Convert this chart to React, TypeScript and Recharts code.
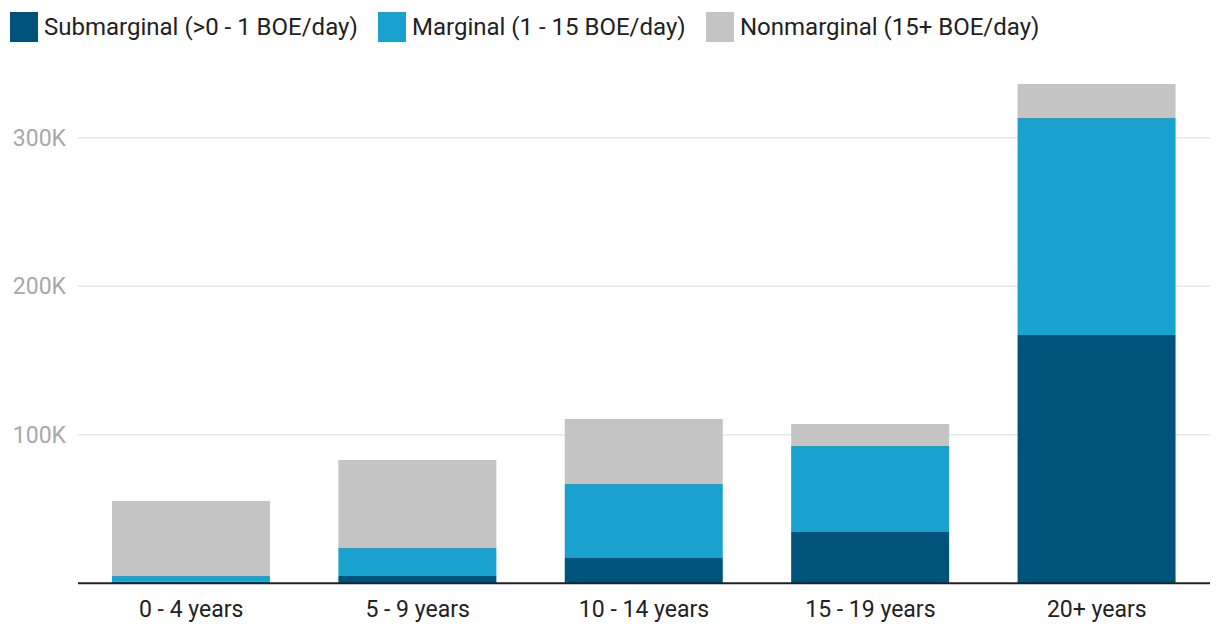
import React from "react";
import { BarChart, Bar, XAxis, YAxis, CartesianGrid } from "recharts";

const categories = ["0 - 4 years", "5 - 9 years", "10 - 14 years", "15 - 19 years", "20+ years"];
const submarginal = [1200, 4900, 17000, 34500, 167200];
const marginal = [3700, 18900, 49900, 58000, 146100];
const nonmarginal = [50500, 59200, 43700, 14800, 22900];
const yTicks = [0, 100000, 200000, 300000];
const gridValues = [100000, 200000, 300000];

const seriesNames = ["Submarginal (>0 - 1 BOE/day)", "Marginal (1 - 15 BOE/day)", "Nonmarginal (15+ BOE/day)"];
const seriesKeys = ["sub", "marg", "non"];
const seriesColors = ["#00537a", "#1aa2ce", "#c4c4c4"];

const data = categories.map((c, i) => ({
  name: c,
  sub: submarginal[i],
  marg: marginal[i],
  non: nonmarginal[i],
}));

const legendX = [10, 378, 706];

export default function App() {
  return (
    <div style={{ position: "absolute", left: 0, top: 0, width: 1220, height: 640, fontFamily: "Roboto, sans-serif", background: "#fff" }}>
      {seriesNames.map((n, i) => (
        <div key={n} style={{ position: "absolute", left: legendX[i], top: 12, height: 30, display: "flex", alignItems: "center" }}>
          <div style={{ width: 28, height: 30, background: seriesColors[i], marginRight: 6 }} />
          <span style={{ fontSize: 24, color: "#222", whiteSpace: "nowrap" }}>{n}</span>
        </div>
      ))}
      <BarChart
        width={1220}
        height={640}
        data={data}
        margin={{ top: 63.5, right: 10, left: 0, bottom: 0 }}
        barCategoryGap="15%"
      >
        <CartesianGrid vertical={false} stroke="#e6e6e6" strokeWidth={1.5} horizontalValues={gridValues} />
        <XAxis
          dataKey="name"
          height={56.7}
          tickLine={false}
          axisLine={{ stroke: "#222", strokeWidth: 2 }}
          tick={{ fill: "#222", fontSize: 23 }}
          tickMargin={11}
        />
        <YAxis
          width={78}
          domain={[0, 350000]}
          ticks={yTicks}
          tickFormatter={(v: number) => (v === 0 ? "" : `${v / 1000}K`)}
          tickLine={false}
          axisLine={false}
          tick={{ fill: "#a8a8a8", fontSize: 23 }}
          tickMargin={6}
        />
        {seriesKeys.map((k, i) => (
          <Bar key={k} dataKey={k} name={seriesNames[i]} stackId="a" fill={seriesColors[i]} isAnimationActive={false} />
        ))}
      </BarChart>
    </div>
  );
}
